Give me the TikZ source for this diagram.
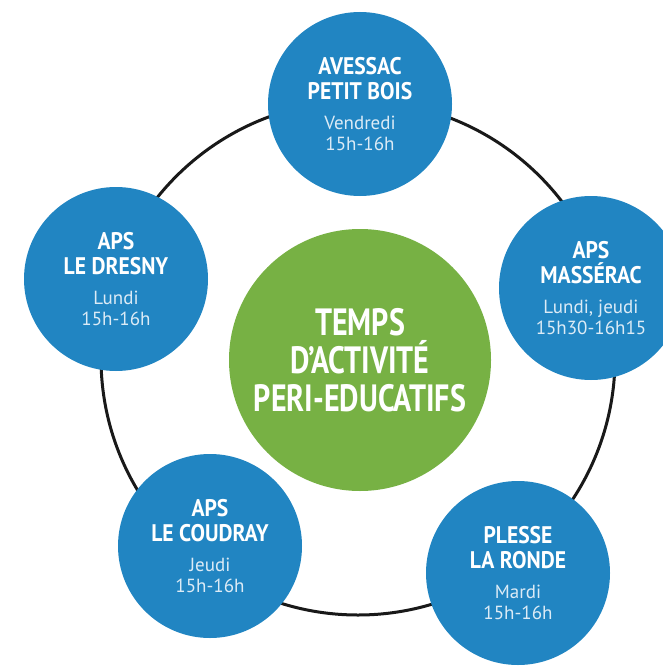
\documentclass[tikz,border=0pt]{standalone}
\usepackage{fontspec}
\setmainfont{PT Sans}
\newfontfamily\titlefont{PT Sans}[FakeStretch=0.79]
\newfontfamily\namefont{PT Sans}[FakeStretch=0.9]
\usetikzlibrary{positioning}
\definecolor{siteblue}{HTML}{2185C2}
\definecolor{tapgreen}{HTML}{77B144}
\definecolor{daytext}{HTML}{DCEBF6}
\newcommand{\sitename}[1]{{\namefont\bfseries\fontsize{24}{24}\selectfont #1}}
\newcommand{\sitetime}[1]{{\color{daytext}\fontsize{19}{21}\selectfont #1}}
\tikzset{
	site/.style = {circle, fill = siteblue, text = white, minimum size = 184pt, inner sep = 0pt, align = center, font = \fontsize{19}{21}\selectfont},
	tap/.style = {circle, fill = tapgreen, text = white, minimum size = 262pt, inner sep = 0pt, align = center, font = \titlefont\bfseries\fontsize{38}{38}\selectfont},
	ring/.style = {draw = black!90, line width = 3pt},
}

\begin{document}
\begin{tikzpicture}[x = 1pt, y = -1pt]
		\useasboundingbox (0,0) rectangle (662,666);
		
			\coordinate (ringc) at (358,358);
			\draw [ring] (ringc) circle [radius = 257pt];
			
			\node [tap] (tap) at (360,360) {TEMPS\\D’ACTIVITÉ\\PERI-EDUCATIFS};
			
			\node [site] (avessac) at (360,104) {\sitename{AVESSAC}\\[3.5pt]\sitename{PETIT BOIS}\\[9pt]\sitetime{Vendredi}\\\sitetime{15h-16h}};
			\node [site] (masserac) at (591,288) {\sitename{APS}\\[3.5pt]\sitename{MASSÉRAC}\\[9pt]\sitetime{Lundi, jeudi}\\\sitetime{15h30-16h15}};
			\node [site] (plesse) at (518,573) {\sitename{PLESSE}\\[3.5pt]\sitename{LA RONDE}\\[9pt]\sitetime{Mardi}\\\sitetime{15h-16h}};
			\node [site] (coudray) at (210,546) {\sitename{APS}\\[3.5pt]\sitename{LE COUDRAY}\\[9pt]\sitetime{Jeudi}\\\sitetime{15h-16h}};
			\node [site] (dresny) at (116,279) {\sitename{APS}\\[3.5pt]\sitename{LE DRESNY}\\[9pt]\sitetime{Lundi}\\\sitetime{15h-16h}};
			
	\end{tikzpicture}
\end{document}
